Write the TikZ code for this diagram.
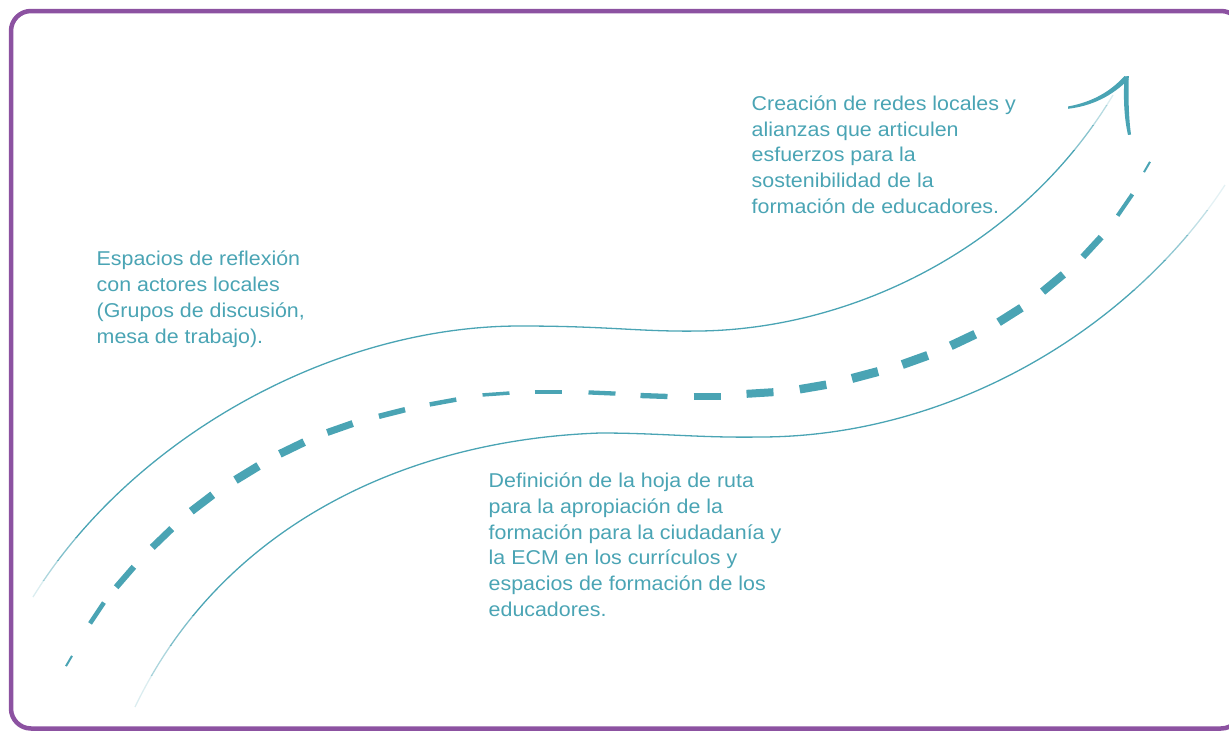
\documentclass[tikz,border=0pt]{standalone}
\usepackage{fontspec}
\newfontfamily\lblfont[FakeStretch=1.07]{Liberation Sans}
\definecolor{roadteal}{HTML}{4AA4B4}
\definecolor{framepurple}{HTML}{8C52A1}
\begin{document}
\begin{tikzpicture}[x=1pt,y=-1pt,
  thin road/.style={draw=roadteal, line width=1.3pt},
  road dash/.style={draw=roadteal, line cap=butt},
  label text/.style={text=roadteal, font=\lblfont\fontsize{20}{25.8}\selectfont, align=left, anchor=base west, inner sep=0pt},
]
\useasboundingbox (0,0) rectangle (1229,731);
\clip (0,0) rectangle (1229,731);
% frame
\draw[framepurple, line width=4.5pt, rounded corners=20pt] (11,11) rectangle (1241,728.5);

% upper edge of the road (fading ends)
\foreach \ya/\yb/\op in {80/105/0.2, 105/125/0.4, 125/150/0.65, 150/537/1, 537/560/0.7, 560/580/0.45, 580/612/0.2}{
  \begin{scope}
    \clip (0,\ya) rectangle (1229,\yb);
    \draw[thin road, opacity=\op] (33,597) .. controls (130,440) and (330,326) .. (520,326)
      .. controls (610,326) and (640,332) .. (700,331)
      .. controls (850,329) and (1020,250) .. (1113,95);
  \end{scope}
}

% lower edge of the road (fading ends)
\foreach \ya/\yb/\op in {180/210/0.15, 210/235/0.35, 235/260/0.6, 260/290/0.85, 290/615/1, 615/645/0.7, 645/675/0.45, 675/712/0.2}{
  \begin{scope}
    \clip (0,\ya) rectangle (1229,\yb);
    \draw[thin road, opacity=\op] (135,707) .. controls (220,530) and (400,440) .. (600,433)
      .. controls (660,433) and (700,438) .. (760,437)
      .. controls (950,437) and (1130,330) .. (1225,185);
  \end{scope}
}

% centre dashes: x / y / direction / thickness / length
\foreach \dx/\dy/\da/\dw/\dl in {
  69/661/-59.7/2/12, 97/613/-56.3/4.5/25, 125/577/-49.1/6/27, 162/538/-43.9/7/27,
  202/503/-37.4/8/27, 247/473/-31.4/8.5/27, 292/448/-25.8/8/27, 340/428/-19.3/7/27,
  392/413/-14.2/5.5/27, 443/402/-10.4/4.5/27, 496/394/-4/3.5/27, 548/392/0/3.3/27,
  602/393/2.5/4.3/27, 654/396/2/5.3/27, 707/396/0/7/27, 760/393/-3.5/8/27,
  813/387/-9.7/8.5/27, 865/375/-14.8/9/27, 915/360/-19.7/9/27, 963/340/-25.3/9/27,
  1010/315/-32.3/8.5/27, 1053/283/-39.7/8/27, 1092/247/-47.3/6.5/27, 1125/205/-55.5/4/26,
  1147/167/-59.9/2/12}{
  \draw[road dash, line width=\dw pt] (\dx,\dy) ++({\da}:{-\dl/2}) -- ++({\da}:{\dl});
}

% arrow head
\fill[roadteal] (1068,106.5) .. controls (1092,102) and (1110,92) .. (1124.5,76)
  -- (1128.5,79.5) .. controls (1112,96) and (1092,106) .. (1068,108.8) -- cycle;
\fill[roadteal] (1124.5,76.5) -- (1128.8,76) .. controls (1128,100) and (1129,120) .. (1131,134.5)
  -- (1128,135) .. controls (1124.5,120) and (1123,100) .. (1124.5,76.5) -- cycle;

% labels (anchored at the baseline of their last line)
\node[label text] (espacios) at (96.5,343) {Espacios de reflexión\\con actores locales\\(Grupos de discusión,\\mesa de trabajo).};
\node[label text] (creacion) at (751.5,213.5) {Creación de redes locales y\\alianzas que articulen\\esfuerzos para la\\sostenibilidad de la\\formación de educadores.};
\node[label text] (definicion) at (488.5,616.5) {Definición de la hoja de ruta\\para la apropiación de la\\formación para la ciudadanía y\\la ECM en los currículos y\\espacios de formación de los\\educadores.};
\end{tikzpicture}
\end{document}
